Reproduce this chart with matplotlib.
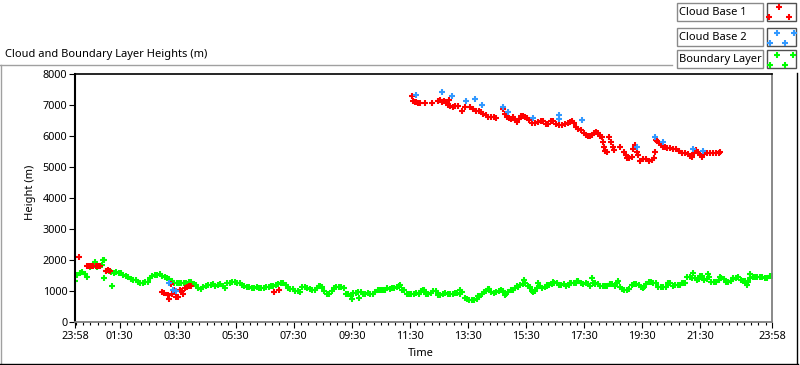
import numpy as np
import matplotlib.pyplot as plt
from matplotlib.lines import Line2D
from matplotlib.patches import Rectangle

plt.rcParams['font.family'] = ['Noto Sans', 'DejaVu Sans']

# chart runs from 23:58 the day before to 23:58, times in hours of the day
t_start = -2 / 60
t_end = 24 - 2 / 60

# boundary layer height, one reading every 10 min from 23:58
bl_heights = [
    1300, 1580, 1520, 1750, 1850, 1800, 1980, 1620, 1580, 1580,
    1500, 1450, 1350, 1280, 1260, 1280, 1460, 1500, 1480, 1420,
    1300, 1230, 1230, 1260, 1280, 1170, 1065, 1150, 1190, 1150,
    1200, 1080, 1260, 1270, 1250, 1150, 1110, 1090, 1090, 1080,
    1120, 1160, 1200, 1240, 1070, 1050, 980, 1100, 1080, 1010,
    1090, 1120, 900, 1000, 1110, 1110, 900, 820, 920, 940,
    900, 900, 960, 1030, 1010, 1060, 1080, 1150, 1020, 880,
    900, 900, 1010, 880, 980, 860, 890, 900, 900, 910,
    950, 720, 700, 720, 900, 1000, 950, 960, 1010, 900,
    1010, 1080, 1180, 1250, 1130, 1000, 1150, 1100, 1170, 1250,
    1180, 1200, 1180, 1240, 1300, 1220, 1200, 1260, 1220, 1140,
    1140, 1200, 1230, 1050, 1030, 1190, 1200, 1120, 1200, 1280,
    1260, 1120, 1130, 1230, 1170, 1180, 1230, 1450, 1400, 1360,
    1330, 1450, 1290, 1330, 1360, 1290, 1380, 1430, 1320, 1280,
    1450, 1440, 1430, 1420, 1470,
]
bl_times = t_start + np.arange(len(bl_heights)) / 6

# the readings in between, 5 min after each of the above
bl_heights_mid = [
    1500, 1600, 1440, 1790, 1760, 1820, 1640, 1600, 1590, 1560,
    1480, 1380, 1330, 1260, 1270, 1400, 1510, 1520, 1450, 1380,
    1250, 1250, 1240, 1280, 1220, 1070, 1110, 1170, 1200, 1170,
    1150, 1250, 1280, 1240, 1190, 1120, 1080, 1100, 1070, 1100,
    1140, 1180, 1260, 1170, 1060, 990, 960, 1100, 1060, 1020,
    1140, 1000, 880, 1090, 1120, 1090, 890, 930, 950, 900,
    910, 900, 1030, 1010, 1070, 1090, 1100, 1010, 900, 880,
    910, 1000, 900, 920, 1000, 870, 910, 890, 920, 900,
    760, 700, 710, 800, 940, 1060, 930, 990, 980, 960,
    1030, 1120, 1220, 1150, 980, 1090, 1070, 1160, 1220, 1230,
    1180, 1150, 1260, 1260, 1230, 1250, 1150, 1230, 1140, 1150,
    1220, 1150, 1120, 1020, 1060, 1210, 1170, 1100, 1270, 1250,
    1110, 1110, 1240, 1160, 1190, 1240, 1440, 1420, 1330, 1460,
    1380, 1280, 1270, 1400, 1280, 1300, 1420, 1350, 1300, 1420,
    1440, 1450, 1420, 1460,
]
bl_times_mid = t_start + (np.arange(len(bl_heights_mid)) + 0.5) / 6

# scattered boundary layer readings off the main band
bl_extra_t = [0.54, 0.655, 0.94, 0.976, 1.23, 8.40, 9.50, 9.75, 10.57, 11.16,
              11.95, 13.22, 13.84, 14.19, 14.77, 15.19, 15.43, 15.74, 15.91, 16.22,
              16.43, 17.01, 17.25, 17.77, 17.87, 18.39, 18.66, 19.53, 20.39, 20.90,
              21.25, 21.49, 21.76, 22.18, 22.63, 23.11, 23.21]
bl_extra_h = [1790, 1935, 2000, 1390, 1140, 1140, 740, 750, 1010, 1170,
              1030, 1030, 815, 1065, 850, 1140, 1330, 955, 1245, 1170,
              1280, 1255, 1310, 1420, 1225, 1225, 1310, 1095, 1245, 1245,
              1570, 1460, 1525, 1440, 1390, 1170, 1525]

# cloud base 1
cb1_t = [0.094, 0.38, 0.45, 0.52, 0.59, 0.69, 0.76, 0.83, 1.03, 1.10, 1.17,
         2.96, 3.03, 3.17, 3.20, 3.26, 3.31, 3.38, 3.44, 3.51, 3.58, 3.65, 3.69,
         3.75, 3.82, 3.89, 3.96, 6.83, 6.99,
         11.56, 11.61, 11.66, 11.71, 11.78, 11.85, 12.02, 12.25, 12.47, 12.54,
         12.61, 12.68, 12.75, 12.82, 12.85, 12.88, 12.98, 13.05, 13.15, 13.29,
         13.40, 13.57, 13.67, 13.78, 13.88, 13.95, 14.02, 14.12, 14.19, 14.29,
         14.39, 14.46, 14.70, 14.77, 14.84, 14.91, 14.98, 15.05, 15.12, 15.19,
         15.26, 15.32, 15.39, 15.46, 15.53, 15.60, 15.70, 15.81, 15.91, 16.01,
         16.08, 16.19, 16.26, 16.36, 16.43, 16.53, 16.63, 16.74, 16.84, 16.94,
         17.01, 17.08, 17.15, 17.22, 17.29, 17.39, 17.49, 17.56, 17.63, 17.70,
         17.77, 17.84, 17.91, 17.98, 18.04, 18.11, 18.15, 18.18, 18.22, 18.29,
         18.35, 18.42, 18.49, 18.52, 18.73, 18.87, 18.94, 18.97, 19.04, 19.14,
         19.18, 19.24, 19.31, 19.35, 19.42, 19.52, 19.63, 19.73, 19.83, 19.90,
         19.94, 19.96, 20.01, 20.08, 20.15, 20.22, 20.28, 20.35, 20.46, 20.56,
         20.66, 20.77, 20.87, 20.97, 21.08, 21.14, 21.21, 21.28, 21.35, 21.42,
         21.49, 21.56, 21.63, 21.73, 21.83, 21.94, 22.04, 22.14, 22.18]
cb1_h = [2100, 1800, 1780, 1790, 1800, 1810, 1790, 1800, 1640, 1660, 1630,
         945, 920, 850, 720, 1200, 900, 1010, 800, 800, 1010, 980, 880,
         1080, 1130, 1140, 1140, 955, 1030,
         7300, 7140, 7100, 7080, 7060, 7050, 7050, 7060, 7120, 7150,
         7100, 7140, 7090, 7000, 7160, 6980, 6925, 6980, 6980, 6820,
         6925, 6945, 6860, 6820, 6800, 6760, 6710, 6680, 6610, 6600,
         6600, 6590, 6870, 6710, 6620, 6590, 6560, 6600, 6520, 6440,
         6560, 6650, 6650, 6600, 6580, 6510, 6420, 6430, 6450, 6470,
         6490, 6400, 6380, 6480, 6490, 6400, 6360, 6340, 6370, 6410,
         6440, 6480, 6420, 6300, 6230, 6200, 6100, 6020, 5990, 5980,
         6040, 6080, 6130, 6080, 6000, 5950, 5800, 5650, 5520, 5470,
         5950, 5800, 5650, 5530, 5650, 5470, 5380, 5300, 5270, 5310,
         5580, 5700, 5470, 5380, 5200, 5250, 5240, 5190, 5220, 5280,
         5470, 5880, 5850, 5780, 5750, 5640, 5650, 5620, 5620, 5590,
         5580, 5500, 5460, 5440, 5400, 5360, 5330, 5460, 5530, 5470,
         5380, 5310, 5400, 5450, 5460, 5450, 5450, 5450, 5480]

# cloud base 2
cb2_t = [3.21, 3.35, 3.43, 11.70, 12.59, 12.94, 13.42, 13.74, 13.99, 14.71,
         14.89, 15.73, 16.63, 16.63, 17.44, 19.33, 19.94, 20.20, 21.26, 21.58]
cb2_h = [1255, 1030, 985, 7320, 7430, 7300, 7115, 7190, 7010, 6945,
         6785, 6580, 6670, 6550, 6515, 5630, 5955, 5815, 5560, 5525]

series_names = ['Cloud Base 1', 'Cloud Base 2', 'Boundary Layer']
series_colors = ['#ff0000', '#3399ff', '#00ff00']

W, H = 800, 365
fig = plt.figure(figsize=(W / 100, H / 100), dpi=100)
fig.patch.set_facecolor('white')


def fx(x):
    return x / W


def fy(y):
    return 1 - y / H


ax = fig.add_axes([fx(75), fy(321.5), (772 - 75) / W, (321.5 - 74) / H])

# small pixel crosses, no smoothing
mk = dict(linestyle='none', marker='+', markersize=4.0, markeredgewidth=1.5,
          antialiased=False)
ax.plot(bl_times, bl_heights, color=series_colors[2], **mk)
ax.plot(bl_times_mid, bl_heights_mid, color=series_colors[2], **mk)
ax.plot(bl_extra_t, bl_extra_h, color=series_colors[2], **mk)
ax.plot(cb1_t, cb1_h, color=series_colors[0], **mk)
ax.plot(cb2_t, cb2_h, color=series_colors[1], **mk)

ax.set_xlim(t_start, t_end)
ax.set_ylim(0, 8000)

major = [t_start] + [1.5 + 2 * i for i in range(11)] + [t_end]
labels = ['23:58'] + ['%02d:30' % (1 + 2 * i) for i in range(11)] + ['23:58']
ax.set_xticks(major)
ax.set_xticklabels(labels)
ax.set_xticks(np.arange(0, 24, 0.25), minor=True)
ax.set_yticks(range(0, 8001, 1000))

ax.tick_params(axis='x', which='major', length=4.5, width=0.8, pad=2, labelsize=7.8)
ax.tick_params(axis='x', which='minor', length=2.5, width=0.8)
ax.tick_params(axis='y', length=4.5, width=0.8, pad=1, labelsize=7.8)

ax.spines['left'].set_color('black')
ax.spines['left'].set_linewidth(1.5)
ax.spines['top'].set_color('black')
ax.spines['top'].set_linewidth(1.2)
ax.spines['bottom'].set_color('#808080')
ax.spines['bottom'].set_linewidth(1.3)
ax.spines['right'].set_color('#808080')
ax.spines['right'].set_linewidth(1.3)

fig.text(fx(421), fy(354), 'Time', ha='center', va='center', fontsize=8)
fig.text(fx(31), fy(192), 'Height (m)', ha='center', va='center',
         rotation=90, fontsize=8)
fig.text(fx(5), fy(54), 'Cloud and Boundary Layer Heights (m)',
         ha='left', va='center', fontsize=8)

# panel frame
fig.add_artist(Line2D([fx(0), fx(672)], [fy(65), fy(65)], color='#a0a0a0', lw=1))
fig.add_artist(Line2D([fx(1), fx(1)], [fy(65), fy(364)], color='#a0a0a0', lw=1))
fig.add_artist(Line2D([fx(0), fx(798)], [fy(363.5), fy(363.5)], color='black', lw=1))
fig.add_artist(Line2D([fx(797), fx(797)], [fy(73), fy(364)], color='black', lw=1))

# legend at top right
row_top = [3.3, 28.3, 50.3]
icon_pts = [
    [(779, 4), (769, 14), (789, 14)],
    [(777, 5), (794, 5), (770, 15), (785, 15)],
    [(777, 5), (793, 5), (770, 15), (785, 15)],
]
for i, name in enumerate(series_names):
    y0 = row_top[i]
    fig.add_artist(Rectangle((fx(676.5), fy(y0 + 17.5)), 86 / W, 17.5 / H,
                             facecolor='white', edgecolor='#8a8a8a', lw=1))
    fig.add_artist(Rectangle((fx(766.5), fy(y0 + 18)), 29.5 / W, 18 / H,
                             facecolor='white', edgecolor='#505050', lw=1))
    fig.text(fx(679), fy(y0 + 9), name, ha='left', va='center', fontsize=8)
    px = [fx(p[0]) for p in icon_pts[i]]
    py = [fy(y0 + p[1]) for p in icon_pts[i]]
    fig.add_artist(Line2D(px, py, color=series_colors[i], **mk))

fig.savefig('out.png', dpi=100)
